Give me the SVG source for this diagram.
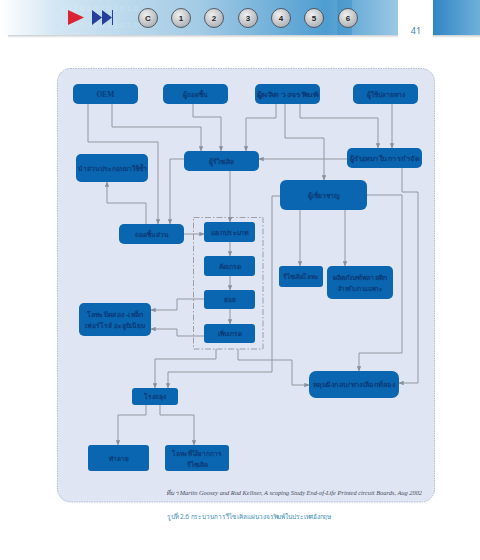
<svg xmlns="http://www.w3.org/2000/svg" width="480" height="560" viewBox="0 0 480 560">
<style>
.n{fill:#0a66b0}
.t{font-family:"Noto Sans","DejaVu Sans",sans-serif;font-size:6.600px;font-weight:700;fill:#0b3a78;text-anchor:middle}
.e{font-family:"Liberation Serif",serif;font-size:7.500px}
.c{fill:none;stroke:#93979f;stroke-width:1}
.b circle{fill:url(#cg);stroke:#3a3f46;stroke-width:.8}
.b text{font-family:"Liberation Sans",sans-serif;font-size:8px;font-weight:700;fill:#222;text-anchor:middle}
.d{font-family:"Liberation Sans",sans-serif;font-size:8px;fill:#fff;opacity:.22}
</style>
<defs>
<linearGradient id="hg" x1="0" x2="1" y1="0" y2="0"><stop offset="0" stop-color="#fff"/><stop offset=".14" stop-color="#d3e6f3"/><stop offset=".5" stop-color="#a3cbe5"/><stop offset=".82" stop-color="#4e9dd1"/><stop offset="1" stop-color="#9cc8e4"/></linearGradient>
<linearGradient id="rg" x1="0" x2="1" y1="0" y2="0"><stop offset="0" stop-color="#2f86c4"/><stop offset="1" stop-color="#6fb0da"/></linearGradient>
<linearGradient id="sg" x1="0" x2="0" y1="0" y2="1"><stop offset="0" stop-color="#c9ccd0"/><stop offset="1" stop-color="#fff"/></linearGradient>
<radialGradient id="cg" cx=".4" cy=".35" r=".7"><stop offset="0" stop-color="#f0f0f0"/><stop offset="1" stop-color="#a9adb2"/></radialGradient>
<marker id="a" viewBox="0 0 8 8" refX="7.500" refY="4" markerWidth="5" markerHeight="5" orient="auto"><path d="M0 .5L8 4L0 7.500z" fill="#8a8e96"/></marker>
</defs>
<rect width="480" height="560" fill="#fff"/>
<g id="header">
<rect x="8" y="35" width="390" height="3" fill="url(#sg)"/>
<rect x="433" y="35" width="47" height="3" fill="url(#sg)"/>
<rect x="0" y="0" width="398" height="35" fill="url(#hg)"/>
<rect x="433" y="0" width="47" height="35" fill="url(#rg)"/>
<rect x="337" y="0" width="15" height="35" fill="#3a8cc8" opacity=".45"/>
<text class="d" x="60" y="11">1 0 1 0 1 0 1 0 1 0 1 0</text>
<text class="d" x="60" y="28">1 0 1 0 0 1 0 1 1 0 1 0</text>
<path d="M68 10L84 17.500L68 25z" fill="#dc2333"/>
<path d="M92 10L102 17.500L92 25zM102 10L112 17.500L102 25z" fill="#26409a"/>
<rect x="112" y="10" width="1" height="15" fill="#26409a"/>
<g class="b">
<circle cx="148" cy="18" r="9.500"/><text x="148" y="21">C</text>
<circle cx="181" cy="18" r="9.500"/><text x="181" y="21">1</text>
<circle cx="214" cy="18" r="9.500"/><text x="214" y="21">2</text>
<circle cx="248" cy="18" r="9.500"/><text x="248" y="21">3</text>
<circle cx="281" cy="18" r="9.500"/><text x="281" y="21">4</text>
<circle cx="314" cy="18" r="9.500"/><text x="314" y="21">5</text>
<circle cx="348" cy="18" r="9.500"/><text x="348" y="21">6</text>
</g>
<text x="416" y="34" font-family="Noto Sans,sans-serif" font-size="9" fill="#3f86ad" text-anchor="middle">41</text>
</g>
<rect id="panel" x="57.500" y="68.500" width="377" height="433.500" rx="13" fill="#dfe5f3" stroke="#9fb0c8" stroke-width=".8" stroke-dasharray="1.500 1"/>
<g id="connectors">
<path class="c" marker-end="url(#a)" d="M88 104V142H158V224"/>
<path class="c" marker-end="url(#a)" d="M112 104V127H201V151"/>
<path class="c" marker-end="url(#a)" d="M193 104V117H221V151"/>
<path class="c" marker-end="url(#a)" d="M276 104V118H246V151"/>
<path class="c" marker-end="url(#a)" d="M285 104V138H324V180"/>
<path class="c" marker-end="url(#a)" d="M300 104V118H378V148"/>
<path class="c" marker-end="url(#a)" d="M392 104V148"/>
<path class="c" marker-end="url(#a)" d="M347 159H259"/>
<path class="c" marker-end="url(#a)" d="M402 168V192H418V383H399"/>
<path class="c" marker-end="url(#a)" d="M367 195H402V353H359V371"/>
<path class="c" marker-end="url(#a)" d="M280 196H272V372H168V388"/>
<path class="c" marker-end="url(#a)" d="M300 210V266"/>
<path class="c" marker-end="url(#a)" d="M345 210V266"/>
<path class="c" marker-end="url(#a)" d="M184 159H170V224"/>
<path class="c" marker-end="url(#a)" d="M230 171V222"/>
<path class="c" marker-end="url(#a)" d="M146 224V203H107V182"/>
<path class="c" marker-end="url(#a)" d="M184 234H204"/>
<path class="c" marker-end="url(#a)" d="M230 242V256"/>
<path class="c" marker-end="url(#a)" d="M230 276V290"/>
<path class="c" marker-end="url(#a)" d="M230 309V324"/>
<path class="c" marker-end="url(#a)" d="M204 299H177V310H151"/>
<path class="c" marker-end="url(#a)" d="M204 336H177V329H151"/>
<path class="c" marker-end="url(#a)" d="M216 349V359H155V388"/>
<path class="c" marker-end="url(#a)" d="M238 349V360H292V385H309"/>
<path class="c" marker-end="url(#a)" d="M146 405V415H118V445"/>
<path class="c" marker-end="url(#a)" d="M160 405V415H194V445"/>
<rect x="193.500" y="217.500" width="69.500" height="131.500" fill="none" stroke="#8a8e96" stroke-width=".8" stroke-dasharray="6 2 1.500 2"/>
</g>
<g id="n-oem"><rect class="n" x="73" y="84" width="65" height="20" rx="5"/><text class="t e" x="105.500" y="96.500">OEM</text></g>
<g id="n-dismantler"><rect class="n" x="163" y="84" width="65" height="20" rx="5"/><text class="t" x="195.500" y="96.500">ผู้ถอดชิ้น</text></g>
<g id="n-pcb"><rect class="n" x="255" y="84" width="65" height="20" rx="5"/><text class="t" x="287.500" y="96.500" textLength="61" lengthAdjust="spacingAndGlyphs">ผู้ผลิต วงจรพิมพ์</text></g>
<g id="n-enduser"><rect class="n" x="353" y="84" width="65" height="20" rx="5"/><text class="t" x="385.500" y="96.500">ผู้ใช้ปลายทาง</text></g>
<g id="n-recycler"><rect class="n" x="184" y="151" width="75" height="20" rx="5"/><text class="t" x="221.500" y="163.500">ผู้รีไซเคิล</text></g>
<g id="n-contractor"><rect class="n" x="347" y="148" width="75" height="20" rx="5"/><text class="t" x="384.500" y="160.500" textLength="70" lengthAdjust="spacingAndGlyphs">ผู้รับเหมาในการกำจัด</text></g>
<g id="n-reuse"><rect class="n" x="76" y="154" width="72" height="28" rx="5"/><text class="t" x="112" y="170.500" textLength="69" lengthAdjust="spacingAndGlyphs">นำส่วนประกอบมาใช้ซ้ำ</text></g>
<g id="n-strip"><rect class="n" x="119" y="224" width="65" height="20" rx="5"/><text class="t" x="151.500" y="236.500">ถอดชิ้นส่วน</text></g>
<g id="n-sort"><rect class="n" x="204" y="222" width="51" height="20" rx="3"/><text class="t" x="229.500" y="234.500" textLength="37" lengthAdjust="spacingAndGlyphs">แยกประเภท</text></g>
<g id="n-grade"><rect class="n" x="204" y="256" width="51" height="20" rx="3"/><text class="t" x="229.500" y="268.500">คัดเกรด</text></g>
<g id="n-shred"><rect class="n" x="204" y="290" width="51" height="19" rx="3"/><text class="t" x="229.500" y="302">ย่อย</text></g>
<g id="n-upgrade"><rect class="n" x="204" y="324" width="51" height="19" rx="3"/><text class="t" x="229.500" y="336">เพิ่มเกรด</text></g>
<g id="n-metals"><rect class="n" x="79" y="303" width="72" height="33" rx="5"/><text class="t" x="115" y="316.500" textLength="57" lengthAdjust="spacingAndGlyphs">โลหะมีคสอง -เหล็ก</text><text class="t" x="115" y="327.500" textLength="60" lengthAdjust="spacingAndGlyphs">เฟอร์โรส์ อะลูมิเนียม</text></g>
<g id="n-specialist"><rect class="n" x="280" y="180" width="87" height="30" rx="6"/><text class="t" x="323.500" y="197.500">ผู้เชี่ยวชาญ</text></g>
<g id="n-metalrec"><rect class="n" x="279" y="266" width="44" height="21" rx="3"/><text class="t" x="301" y="279" textLength="36" lengthAdjust="spacingAndGlyphs">รีไซเคิลโลหะ</text></g>
<g id="n-plastic"><rect class="n" x="327" y="266" width="66" height="33" rx="5"/><text class="t" x="360" y="279.500" textLength="55" lengthAdjust="spacingAndGlyphs">ผลิตภัณฑ์พลาสติก</text><text class="t" x="360" y="290.500" textLength="45" lengthAdjust="spacingAndGlyphs">สำหรับงานเฉพาะ</text></g>
<g id="n-landfill"><rect class="n" x="309" y="371" width="90" height="27" rx="7"/><text class="t" x="354" y="387" textLength="82" lengthAdjust="spacingAndGlyphs">หลุมฝังกลบ/ทางเลือกที่สอง</text></g>
<g id="n-smelter"><rect class="n" x="132" y="388" width="46" height="17" rx="3"/><text class="t" x="155" y="399">โรงถลุง</text></g>
<g id="n-destroy"><rect class="n" x="88" y="445" width="61" height="26" rx="3"/><text class="t" x="118.500" y="461">ทำลาย</text></g>
<g id="n-recovered"><rect class="n" x="165" y="445" width="64" height="26" rx="3"/><text class="t" x="197" y="456" textLength="50" lengthAdjust="spacingAndGlyphs">โลหะที่ได้จากการ</text><text class="t" x="197" y="467">รีไซเคิล</text></g>
<text id="source" x="166" y="495" font-family="Liberation Serif,serif" font-style="italic" font-size="5.800" fill="#4a4f5c" textLength="256" lengthAdjust="spacingAndGlyphs">ที่มา Martin Goosey and Rod Kellner, A scoping Study End-of-Life Printed circuit Boards, Aug 2002</text>
<text id="caption" x="167" y="519" font-family="Noto Sans,sans-serif" font-size="6.800" fill="#3f8fb5" textLength="164" lengthAdjust="spacingAndGlyphs">รูปที่ 2.6 กระบวนการรีไซเคิลแผ่นวงจรพิมพ์ในประเทศอังกฤษ</text>
</svg>
